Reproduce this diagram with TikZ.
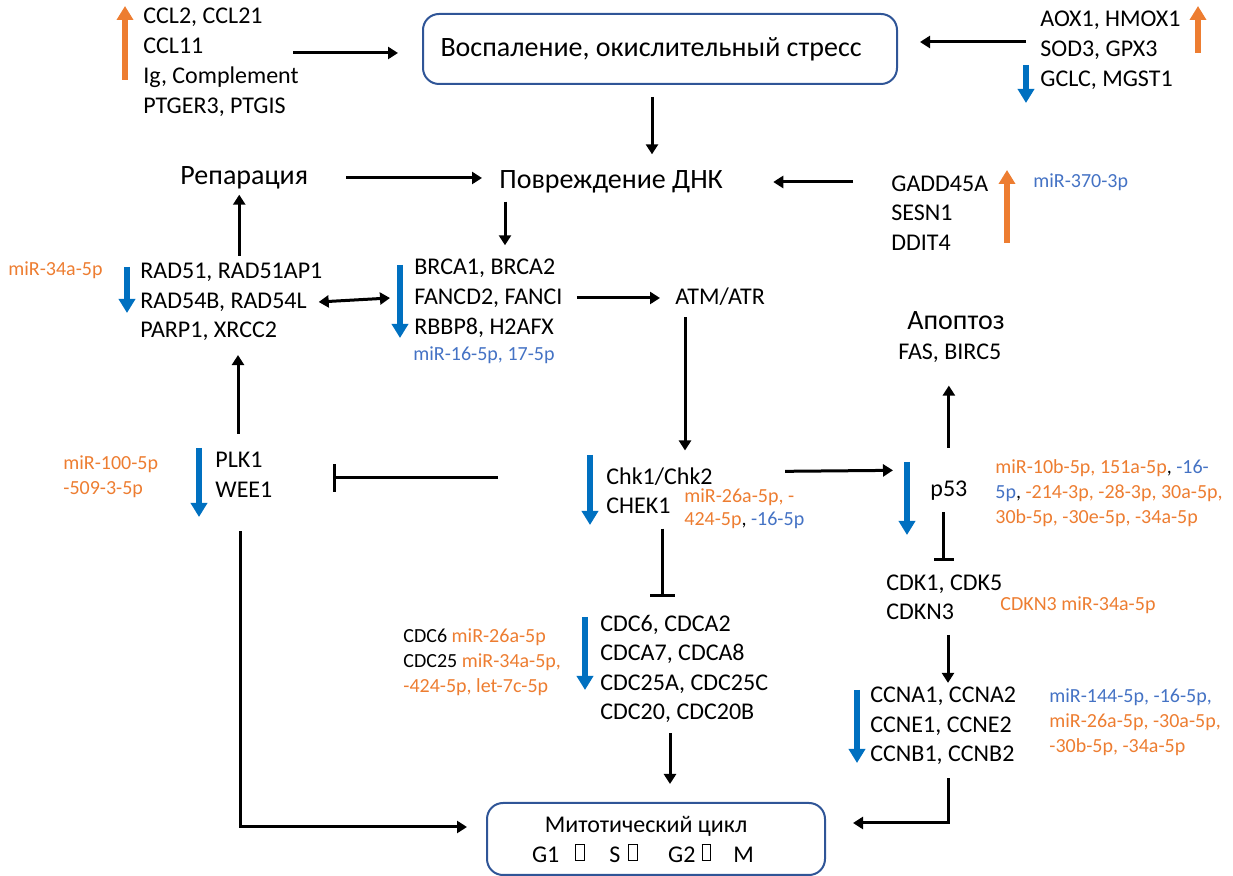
\documentclass[tikz,border=0pt]{standalone}
\usepackage{fontspec}
\setmainfont{Carlito}
\usetikzlibrary{arrows.meta}
\definecolor{miror}{HTML}{ED7D31}
\definecolor{mirbl}{HTML}{4472C4}
\definecolor{trendbl}{HTML}{0070C0}
\definecolor{boxbl}{HTML}{2F5597}
\newcommand\tofubox{\raisebox{0.1em}{\fboxsep=0pt\fboxrule=0.5pt\fbox{\rule{0pt}{0.62em}\hspace{0.33em}}}}
\begin{document}
\begin{tikzpicture}[x=0.5pt,y=-0.5pt]
% Стили
\tikzset{gene/.style={anchor=west,inner sep=0pt,align=left,font=\fontsize{12}{14.7}\selectfont},
  big/.style={anchor=west,inner sep=0pt,font=\fontsize{14}{17}\selectfont},
  mir/.style={anchor=west,inner sep=0pt,align=left,font=\fontsize{10}{12.5}\selectfont,text=miror},
  rbox/.style={draw=boxbl,line width=1pt,rounded corners=8pt,align=center},
  arr/.style={-{Triangle[width=6pt,length=5pt]},line width=1.5pt},
  inh/.style={-{Bar[width=#1]},line width=1.5pt},
  trendup/.style={-{Triangle[width=8pt,length=7pt]},line width=3pt,color=miror},
  trenddn/.style={-{Triangle[width=8pt,length=7pt]},line width=3pt,color=trendbl}}
\useasboundingbox (0,0) rectangle (1233,876);

% Узлы
\node[rbox,minimum width=237pt,minimum height=35pt,font=\fontsize{14}{17}\selectfont] (infl) at (660,49) {\raisebox{-2pt}{Воспаление, окислительный стресс}\hspace{9pt}};
\node[gene,font=\fontsize{12}{15}\selectfont] (ccl) at (143,62) {CCL2, CCL21\\CCL11\\Ig, Complement\\PTGER3, PTGIS};
\node[gene,font=\fontsize{12}{15}\selectfont] (aox) at (1040,50) {AOX1, HMOX1\\SOD3, GPX3\\GCLC, MGST1};
\node[big] (dmg) at (499,182) {Повреждение ДНК};
\node[big] (rep) at (180,178) {Репарация};
\node[gene] (gadd) at (891,213) {GADD45A\\SESN1\\DDIT4};
\node[mir,text=mirbl] (mir370) at (1033,182) {miR-370-3p};
\node[gene] (rad) at (140,302) {RAD51, RAD51AP1\\RAD54B, RAD54L\\PARP1, XRCC2};
\node[mir] (mir34) at (8,270) {miR-34a-5p};
\node[gene,font=\fontsize{12}{15}\selectfont] (brca) at (414,298) {BRCA1, BRCA2\\FANCD2, FANCI\\RBBP8, H2AFX};
\node[mir,text=mirbl] (mir16) at (413,355) {miR-16-5p, 17-5p};
\node[gene] (atm) at (675,297) {ATM/ATR};
\node[gene] (chk) at (606,491) {Chk1/Chk2\\CHEK1};
\node[mir,font=\fontsize{10}{11.5}\selectfont] (mirchk) at (684,509) {miR-26a-5p, -\\424-5p\textcolor{black}{,} \textcolor{mirbl}{-16-5p}};
\node[gene,font=\fontsize{12}{15}\selectfont] (plk) at (215,475) {PLK1\\WEE1};
\node[mir] (mir100) at (63,477) {miR-100-5p\\-509-3-5p};
\node[gene] (p53) at (930,491) {p53};
\node[gene] (apo) at (898,337) {\fontsize{14}{15}\selectfont\hspace{4.5pt}Апоптоз\\FAS, BIRC5};
\node[mir] (mirp53) at (995,493) {miR-10b-5p, 151a-5p\textcolor{black}{,} \textcolor{mirbl}{-16-}\\\textcolor{mirbl}{5p}\textcolor{black}{,} -214-3p, -28-3p, 30a-5p,\\30b-5p, -30e-5p, -34a-5p};
\node[gene] (cdk) at (886,597) {CDK1, CDK5\\CDKN3};
\node[mir] (cdkn) at (1000,605) {CDKN3 miR-34a-5p};
\node[gene] (ccn) at (870,726) {CCNA1, CCNA2\\CCNE1, CCNE2\\CCNB1, CCNB2};
\node[mir] (mirccn) at (1049,722) {\textcolor{mirbl}{miR-144-5p, -16-5p,}\\miR-26a-5p, -30a-5p,\\-30b-5p, -34a-5p};
\node[gene] (cdc) at (600,669) {CDC6, CDCA2\\CDCA7, CDCA8\\CDC25A, CDC25C\\CDC20, CDC20B};
\node[mir] (mircdc) at (403,662) {\textcolor{black}{CDC6} miR-26a-5p\\\textcolor{black}{CDC25} miR-34a-5p,\\-424-5p, let-7c-5p};
\node[rbox,minimum width=169pt,minimum height=36pt,font=\fontsize{12}{15}\selectfont] (mit) at (656,839)
  {Митотический цикл\rule{10pt}{0pt}\\G1\hspace{8pt}\tofubox\hspace{12pt}S\hspace{4pt}\tofubox\hspace{15pt}G2\hspace{3pt}\tofubox\hspace{11pt}M\rule{13pt}{0pt}};

% Тренды
\foreach \x/\a/\b in {125/80/6, 1198/53/6, 1007/243/170}
  \draw[trendup] (\x,\a) -- (\x,\b);
\foreach \x/\a/\b in {1026/65/103, 127/267/313, 400/265/338, 590/455/525, 199/448/517, 907/462/535, 585/617/690, 857/690/763}
  \draw[trenddn] (\x,\a) -- (\x,\b);

% Связи
\draw[arr,shorten <=-3pt,shorten >=12pt] ([yshift=-2pt]infl.west -| ccl.east) -- ([yshift=-2pt]infl.west);
\draw[arr,shorten <=7pt,shorten >=11pt] ([yshift=4pt]aox.west) -- ([yshift=4pt]aox.west -| infl.east);
\draw[arr,shorten <=6pt,shorten >=8pt] ([xshift=-4pt]infl.south) -- ([xshift=-4pt]infl.south |- dmg.north);
\draw[arr,shorten <=19pt,shorten >=8.5pt] (rep.east) -- (rep.east -| dmg.west);
\draw[arr,shorten <=19pt,shorten >=25pt] (dmg.east -| gadd.west) -- (dmg.east);
\draw[arr,shorten <=4pt,shorten >=6.5pt] ([xshift=3pt]dmg.south west) -- ([xshift=3pt]dmg.south west |- brca.north);
\draw[arr,shorten <=3.5pt,shorten >=2.5pt] ([xshift=-2.5pt]rep.south |- rad.north) -- ([xshift=-2.5pt]rep.south);
\draw[{Triangle[width=6pt,length=5pt]}-{Triangle[width=6pt,length=5pt]},line width=1.5pt] ([xshift=-2pt]rad.east) -- ([xshift=-12pt]brca.west);
\draw[arr,shorten <=7pt,shorten >=7.5pt] (brca.east) -- (brca.east -| atm.west);
\draw[arr,shorten <=5.5pt,shorten >=8.5pt] ([xshift=5pt]atm.south west) -- ([xshift=5pt]atm.south west |- chk.north);
\draw[inh=14pt,shorten <=54pt,shorten >=30pt] ([yshift=6.5pt]chk.west) -- ([yshift=6.5pt]chk.west -| plk.east);
\draw[arr,shorten <=9pt,shorten >=7pt] ([xshift=11.5pt]plk.north west) -- ([xshift=11.5pt]plk.north west |- rad.south);
\draw[arr,shorten <=16.5pt,shorten >=9.5pt] ([xshift=12.5pt]plk.south west) |- ([yshift=6pt]mit.west);
\draw[arr,shorten <=36pt,shorten >=18.5pt] ([yshift=9.5pt]chk.east) -- ([yshift=10.5pt]p53.west);
\draw[arr,shorten <=16.5pt,shorten >=11.5pt] (p53.north) -- (p53.north |- apo.south);
\draw[inh=10pt,shorten <=5.5pt,shorten >=6.5pt] ([xshift=-2.5pt]p53.south) -- ([xshift=-2.5pt]p53.south |- cdk.north);
\draw[arr,shorten <=7.5pt,shorten >=2pt] ([xshift=31pt]cdk.south west) -- ([xshift=31pt]cdk.south west |- ccn.north);
\draw[arr,shorten <=6.5pt,shorten >=13.5pt] ([xshift=39pt]ccn.south west) |- ([yshift=8pt]mit.east);
\draw[inh=12.5pt,shorten <=7pt,shorten >=9pt] ([xshift=28pt]chk.south west) -- ([xshift=28pt]chk.south west |- cdc.north);
\draw[arr,shorten <=5pt,shorten >=9pt] ([xshift=35pt]cdc.south west) -- ([xshift=35pt]cdc.south west |- mit.north);

\end{tikzpicture}
\end{document}
